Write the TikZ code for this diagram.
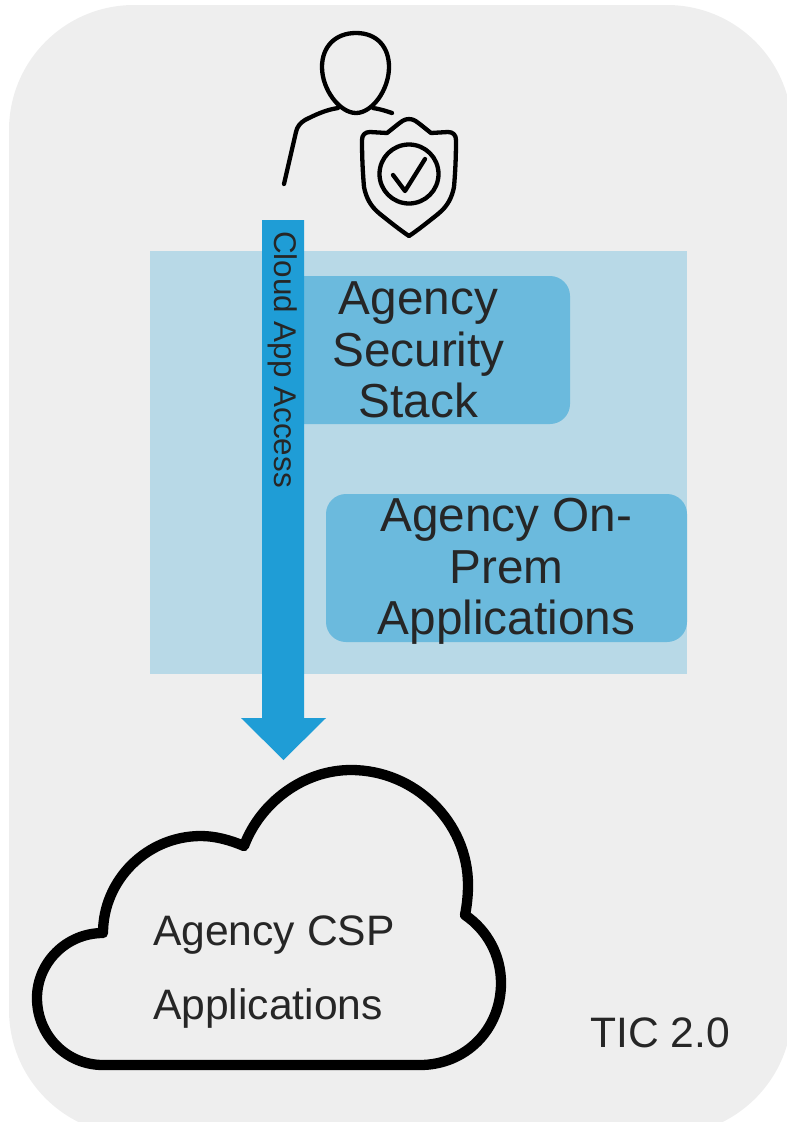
\documentclass[tikz,border=0pt]{standalone}
\usepackage{fontspec}
\setmainfont{Liberation Sans}
\definecolor{ticgray}{HTML}{EEEEEE}
\definecolor{panelblue}{HTML}{B8D9E7}
\definecolor{boxblue}{HTML}{6BBADD}
\definecolor{arrowblue}{HTML}{1F9DD6}
\definecolor{textgray}{HTML}{262626}
\tikzset{
  appbox/.style={fill=boxblue, rounded corners=20pt, minimum height=148pt, inner sep=0pt},
  applabel/.style={align=center, inner sep=0pt, text=textgray, font=\fontsize{47.7}{51.5}\selectfont},
  iconline/.style={line width=4.3pt, line cap=round, line join=round},
  biglabel/.style={text=textgray, inner sep=0pt, font=\fontsize{42.6}{74}\selectfont}
}

\begin{document}
\begin{tikzpicture}[x=1pt,y=-1pt]
\clip (0,0) rectangle (787,1122);
\fill[color=ticgray, rounded corners=125pt] (9,5) rectangle (792,1135);
\fill[color=panelblue] (150,251) rectangle (687,674);

\node[appbox, minimum width=303pt] (stackbox) at (418.5,350) {};
\node[applabel] (stack) at (418.5,350) {Agency\\Security\\Stack};
\node[appbox, minimum width=361pt] (onprembox) at (506.5,568) {};
\node[applabel] (onprem) at (506.5,571.5) {Agency On-\\Prem\\Applications};

\fill[color=arrowblue] (262,220) -- (304,220) -- (304,718) -- (326,718) -- (283.5,760) -- (241,718) -- (262,718) -- cycle;
\node[rotate=-90, text=textgray, inner sep=0pt, font=\fontsize{31.4}{34}\selectfont] (access) at (283,359.5) {Cloud App Access};

% person
\draw[iconline] (356,33) .. controls (335,33) and (322,47) .. (322,67)
  .. controls (322,90) and (340,113) .. (356,113)
  .. controls (372,113) and (389,90) .. (389,67)
  .. controls (389,47) and (377,33) .. (356,33) -- cycle;
\draw[iconline] (338,108) .. controls (325,110) and (315,115) .. (305,120)
  .. controls (300,123) and (297,127) .. (296,132) -- (284,184);
\draw[iconline] (373,108) .. controls (380,109) and (386,111) .. (392,113);

% shield
\draw[iconline] (409,119) .. controls (404,119) and (401,122) .. (397,125) -- (387,133) -- (370,132)
  .. controls (365,132) and (362,135) .. (362,140)
  .. controls (362,160) and (363,175) .. (364,187)
  .. controls (366,197) and (370,206) .. (380,214) .. controls (390,222) and (400,230) .. (409,236)
  .. controls (418,230) and (428,222) .. (438,214) .. controls (448,206) and (452,197) .. (454,187)
  .. controls (455,175) and (456,160) .. (456,140)
  .. controls (456,135) and (453,132) .. (448,132) -- (431,133) -- (421,125)
  .. controls (417,122) and (414,119) .. (409,119) -- cycle;
\draw[iconline] (409,174) circle (29.5pt);
\draw[iconline] (393,175) -- (405,191) -- (425,159);

% cloud
\draw[line width=10.3pt, line join=round] (103,1065) -- (420,1065)
  .. controls (465,1065) and (501,1030) .. (501,983)
  .. controls (501,955) and (487,930) .. (465,915)
  .. controls (467,905) and (468,895) .. (468,885)
  .. controls (468,822) and (415,770) .. (351,770)
  .. controls (303,770) and (260,803) .. (244,846)
  .. controls (230,840) and (215,836) .. (201,836)
  .. controls (147,836) and (103,880) .. (103,933)
  .. controls (66,933) and (37,963) .. (37,998)
  .. controls (37,1035) and (66,1065) .. (103,1065) -- cycle;
\node[biglabel, align=left, anchor=west] (csp) at (153,972) {Agency CSP\\Applications};

\node[biglabel, anchor=west] (tic) at (590,1033) {TIC 2.0};
\end{tikzpicture}
\end{document}
